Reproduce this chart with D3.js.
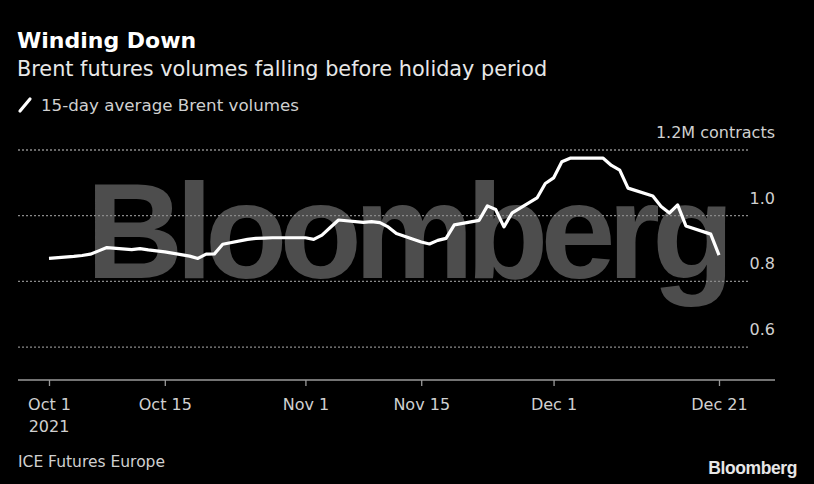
<!DOCTYPE html>
<html>
<head>
<meta charset="utf-8">
<script src="https://cdn.jsdelivr.net/npm/d3@7"></script>
<style>
  html, body { margin: 0; padding: 0; background: #000; }
  svg { display: block; }
  text { font-family: "DejaVu Sans", sans-serif; }
</style>
</head>
<body>
<svg id="chart" width="814" height="484"></svg>
<script>
// ---- data ----
const dates = [
  "2021-10-01","2021-10-04","2021-10-05","2021-10-06","2021-10-07","2021-10-08",
  "2021-10-11","2021-10-12","2021-10-13","2021-10-14","2021-10-15",
  "2021-10-18","2021-10-19","2021-10-20","2021-10-21","2021-10-22",
  "2021-10-25","2021-10-26","2021-10-27","2021-10-28","2021-10-29",
  "2021-11-01","2021-11-02","2021-11-03","2021-11-04","2021-11-05",
  "2021-11-08","2021-11-09","2021-11-10","2021-11-11","2021-11-12",
  "2021-11-15","2021-11-16","2021-11-17","2021-11-18","2021-11-19",
  "2021-11-22","2021-11-23","2021-11-24","2021-11-25","2021-11-26",
  "2021-11-29","2021-11-30","2021-12-01","2021-12-02","2021-12-03",
  "2021-12-06","2021-12-07","2021-12-08","2021-12-09","2021-12-10",
  "2021-12-13","2021-12-14","2021-12-15","2021-12-16","2021-12-17",
  "2021-12-20","2021-12-21"
];
const volumes = [
  0.870, 0.876, 0.879, 0.883, 0.893, 0.903,
  0.897, 0.900, 0.896, 0.893, 0.890,
  0.877, 0.870, 0.883, 0.884, 0.913,
  0.928, 0.931, 0.932, 0.933, 0.933,
  0.933, 0.928, 0.941, 0.964, 0.987,
  0.980, 0.982, 0.979, 0.966, 0.946,
  0.920, 0.914, 0.925, 0.931, 0.972,
  0.986, 1.030, 1.019, 0.966, 1.009,
  1.054, 1.098, 1.115, 1.164, 1.175,
  1.175, 1.175, 1.153, 1.139, 1.084,
  1.060, 1.028, 1.008, 1.033, 0.969,
  0.944, 0.880
];
const xTickDates = ["2021-10-01","2021-10-15","2021-11-01","2021-11-15","2021-12-01","2021-12-21"];
const xTickLabels = ["Oct 1","Oct 15","Nov 1","Nov 15","Dec 1","Dec 21"];
const yTickValues = [0.6, 0.8, 1.0, 1.2];
const yTickLabels = ["0.6", "0.8", "1.0", "1.2M contracts"];

const title = "Winding Down";
const subtitle = "Brent futures volumes falling before holiday period";
const legendLabel = "15-day average Brent volumes";
const source = "ICE Futures Europe";

// ---- layout ----
const svg = d3.select("#chart");
const parse = d3.utcParse("%Y-%m-%d");
const points = dates.map((d, i) => ({ date: parse(d), value: volumes[i] }));

const x = d3.scaleUtc()
  .domain([parse("2021-10-01"), parse("2021-12-21")])
  .range([49, 719]);
const y = d3.scaleLinear()
  .domain([0.5, 1.2])
  .range([380, 150]);

const gridLeft = 18, gridRight = 748, axisRight = 775;

// watermark
svg.append("text")
  .attr("x", 86).attr("y", 278)
  .attr("fill", "#4d4d4d")
  .attr("font-weight", "bold")
  .attr("font-size", 135)
  .attr("letter-spacing", -8)
  .style("font-family", "'Liberation Sans', Arial, sans-serif")
  .text("Bloomberg");

// gridlines
svg.append("g")
  .selectAll("line")
  .data(yTickValues)
  .join("line")
  .attr("x1", gridLeft).attr("x2", gridRight)
  .attr("y1", d => y(d)).attr("y2", d => y(d))
  .attr("stroke", "#8a8a8a")
  .attr("stroke-width", 1.3)
  .attr("stroke-dasharray", "2,2");

// y labels
svg.append("g")
  .selectAll("text")
  .data(yTickValues)
  .join("text")
  .attr("x", axisRight)
  .attr("y", d => y(d) - 12)
  .attr("text-anchor", "end")
  .attr("fill", "#d0d0d0")
  .attr("font-size", 16)
  .text((d, i) => yTickLabels[i]);

// x axis
const xAxis = d3.axisBottom(x)
  .tickValues(xTickDates.map(parse))
  .tickFormat((d, i) => xTickLabels[i])
  .tickSize(6)
  .tickSizeOuter(0);
const gx = svg.append("g")
  .attr("transform", `translate(0,${y(0.5)})`)
  .call(xAxis);
gx.select(".domain").remove();
gx.insert("line", ":first-child")
  .attr("x1", gridLeft).attr("x2", axisRight)
  .attr("y1", 0).attr("y2", 0)
  .attr("stroke", "#9a9a9a").attr("stroke-width", 1.5);
gx.selectAll(".tick line").attr("stroke", "#9a9a9a").attr("stroke-width", 1.3);
gx.selectAll(".tick text")
  .attr("fill", "#d0d0d0")
  .attr("font-size", 16)
  .attr("font-family", "DejaVu Sans, sans-serif")
  .attr("dy", null)
  .attr("y", 30);
gx.append("text")
  .attr("x", x(parse("2021-10-01")))
  .attr("y", 52)
  .attr("text-anchor", "middle")
  .attr("fill", "#d0d0d0")
  .attr("font-size", 16)
  .text("2021");

// line
const line = d3.line()
  .x(d => x(d.date))
  .y(d => y(d.value));
svg.append("path")
  .datum(points)
  .attr("fill", "none")
  .attr("stroke", "#ffffff")
  .attr("stroke-width", 3.2)
  .attr("stroke-linejoin", "round")
  .attr("stroke-linecap", "butt")
  .attr("d", line);

// titles
svg.append("text")
  .attr("x", 17).attr("y", 48)
  .attr("fill", "#ffffff")
  .attr("font-weight", "bold")
  .attr("font-size", 22)
  .text(title);
svg.append("text")
  .attr("x", 17).attr("y", 76)
  .attr("fill", "#e8e8e8")
  .attr("font-size", 20.8)
  .text(subtitle);

// legend
svg.append("line")
  .attr("x1", 20).attr("y1", 111)
  .attr("x2", 30).attr("y2", 99)
  .attr("stroke", "#ffffff")
  .attr("stroke-width", 3.2)
  .attr("stroke-linecap", "round");
svg.append("text")
  .attr("x", 41).attr("y", 111)
  .attr("fill", "#d0d0d0")
  .attr("font-size", 16.7)
  .text(legendLabel);

// footer
svg.append("text")
  .attr("x", 18).attr("y", 467)
  .attr("fill", "#d0d0d0")
  .attr("font-size", 15.5)
  .text(source);
svg.append("text")
  .attr("x", 797).attr("y", 474)
  .attr("text-anchor", "end")
  .attr("fill", "#e6e6e6")
  .attr("font-weight", "bold")
  .attr("font-size", 17.5)
  .attr("letter-spacing", -0.4)
  .style("font-family", "'Liberation Sans', Arial, sans-serif")
  .text("Bloomberg");
</script>
</body>
</html>
